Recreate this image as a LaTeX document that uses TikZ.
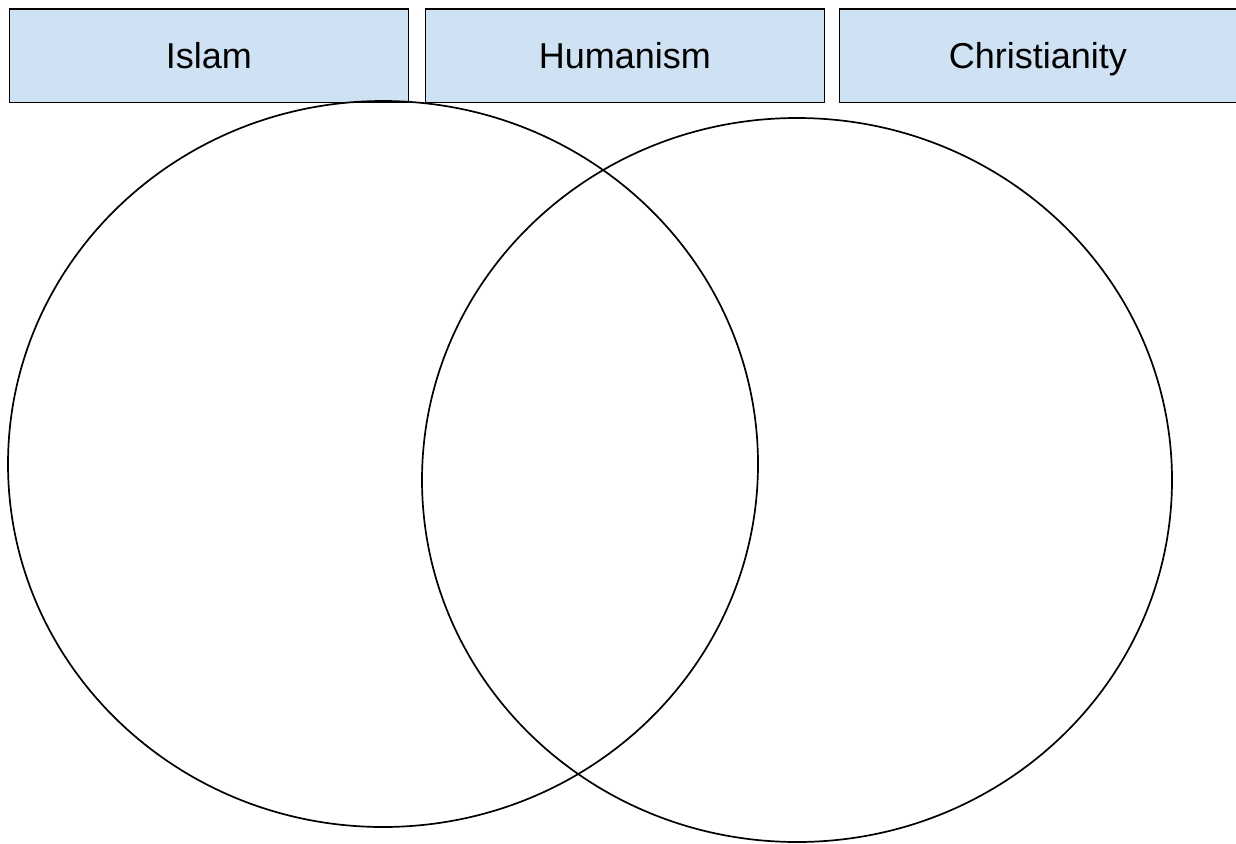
\documentclass[tikz,border=0pt]{standalone}
\usepackage{fontspec}
\setmainfont{Liberation Sans}
\definecolor{boxblue}{HTML}{CFE2F3}
\begin{document}
\begin{tikzpicture}[x=1pt,y=-1pt,
  label box/.style={draw=black,fill=boxblue,line width=1.7pt,minimum width=399pt,minimum height=93pt,inner sep=0pt,anchor=north west,text height=26pt,text depth=0pt,font=\fontsize{36}{40}\selectfont},
  set ring/.style={draw=black,line width=1.7pt}]
\useasboundingbox (0,0) rectangle (1236,843);
\node[label box] (islam) at (8.5,8.5) {Islam};
\node[label box] (human) at (424.5,8.5) {Humanism};
\node[label box,minimum width=397pt] (christ) at (838.5,8.5) {Christianity};
\draw[set ring] (383,464) ellipse [x radius=375, y radius=363];
\draw[set ring] (797,480) ellipse [x radius=375, y radius=362];
\end{tikzpicture}
\end{document}
